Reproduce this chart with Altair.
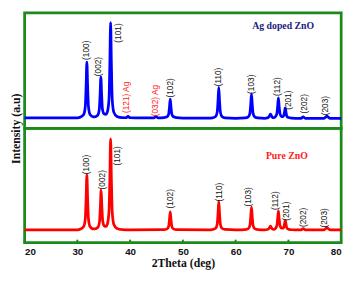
import altair as alt
import pandas as pd

# ---- data ----
# Ag doped ZnO (top panel, blue)
ag_x = [20.0, 30.0, 30.6, 31.2, 31.5, 31.65, 31.8, 31.95, 32.1, 32.4, 33.0,
        33.25, 33.85, 34.15, 34.3, 34.45, 34.6, 34.75, 35.05, 35.4, 35.7, 36.0, 36.15, 36.3, 36.45, 36.6, 36.9, 37.5, 38.5,
        39.2, 39.6, 40.0, 41.0, 44.5, 44.9, 45.3,
        46.4, 47.0, 47.3, 47.45, 47.6, 47.75, 47.9, 48.2, 48.8, 50.0, 55.0,
        55.6, 56.2, 56.5, 56.65, 56.8, 56.95, 57.1, 57.4, 58.0, 60.0,
        61.8, 62.4, 62.7, 62.85, 63.0, 63.15, 63.3, 63.6, 64.2, 65.5,
        66.0, 66.3, 66.6, 66.9, 67.2,
        67.5, 67.8, 67.95, 68.1, 68.25, 68.4, 68.7, 68.95, 69.1, 69.25, 69.4, 69.55, 69.7, 70.0, 70.6,
        72.0, 72.4, 72.8, 73.2, 75.0, 76.7, 77.0, 77.3, 77.6, 77.9, 80.0]
ag_y = [11.5, 11.5, 12.4, 15.2, 23.8, 45.3, 73.0, 45.3, 23.8, 15.2, 12.6,
        12.5, 14.3, 20.5, 36.3, 56.5, 36.8, 21.3, 16.0, 15.4, 18.4, 32.6, 69.5, 116.5, 69.5, 32.5, 17.8, 13.1, 11.7,
        11.6, 13.0, 11.6, 11.5, 11.5, 12.8, 11.5,
        11.8, 12.7, 15.6, 22.8, 32.0, 22.8, 15.6, 12.7, 11.8, 11.3, 11.2,
        11.5, 13.0, 17.8, 29.7, 45.0, 29.7, 17.8, 13.0, 11.5, 11.0,
        11.4, 12.6, 16.4, 25.9, 38.0, 25.9, 16.4, 12.6, 11.4, 11.0,
        11.4, 12.5, 15.5, 12.5, 11.6,
        12.6, 15.8, 23.6, 33.5, 23.8, 16.3, 12.9, 12.9, 13.8, 17.7, 22.5, 17.4, 13.3, 11.8, 11.2,
        10.8, 11.0, 12.5, 11.0, 10.8, 11.0, 12.0, 13.5, 12.0, 11.0, 10.8]

# Pure ZnO (bottom panel, red)
pure_x = [20.0, 30.0, 30.6, 31.2, 31.5, 31.65, 31.8, 31.95, 32.1, 32.4, 33.0,
          33.3, 33.9, 34.2, 34.35, 34.5, 34.65, 34.8, 35.1, 35.4, 35.7, 36.0, 36.15, 36.3, 36.45, 36.6, 36.9, 37.5, 38.5,
          40.0, 46.4, 47.0, 47.3, 47.45, 47.6, 47.75, 47.9, 48.2, 48.8, 55.0,
          55.6, 56.2, 56.5, 56.65, 56.8, 56.95, 57.1, 57.4, 58.0, 60.0,
          61.8, 62.4, 62.7, 62.85, 63.0, 63.15, 63.3, 63.6, 64.2, 65.5,
          66.0, 66.3, 66.6, 66.9, 67.2,
          67.5, 67.8, 67.95, 68.1, 68.25, 68.4, 68.7, 68.95, 69.1, 69.25, 69.4, 69.55, 69.7, 70.0, 70.6,
          72.0, 72.4, 72.8, 73.2, 75.0, 76.7, 77.0, 77.3, 77.6, 77.9, 80.0]
pure_y = [13.3, 13.3, 14.2, 16.8, 24.8, 45.0, 71.0, 45.0, 24.8, 16.8, 14.4,
          14.3, 16.1, 22.0, 36.5, 55.0, 37.0, 23.0, 17.6, 16.9, 19.6, 33.5, 66.0, 109.0, 66.0, 32.8, 19.3, 14.8, 13.6,
          13.3, 13.6, 14.4, 17.1, 23.8, 32.3, 23.8, 17.1, 14.4, 13.6, 13.3,
          13.8, 15.1, 19.3, 29.8, 43.3, 29.8, 19.3, 15.1, 13.8, 13.3,
          13.7, 14.7, 18.1, 26.5, 37.3, 26.5, 18.1, 14.7, 13.7, 13.3,
          13.7, 14.6, 17.3, 14.6, 13.9,
          14.6, 17.6, 24.5, 33.3, 24.6, 18.0, 15.1, 15.1, 15.8, 19.1, 23.3, 18.9, 15.5, 14.1, 13.5,
          13.3, 13.4, 14.8, 13.4, 13.3, 13.4, 14.4, 15.7, 14.4, 13.4, 13.3]

# peak labels
ag_lab_text = ["(100)", "(002)", "(101)", "(121) Ag", "(032) Ag", "(102)", "(110)", "(103)", "(112)", "(201)", "(202)", "(203)"]
ag_lab_x = [31.7, 34.0, 37.7, 39.3, 44.7, 47.6, 56.6, 62.9, 67.8, 69.9, 72.9, 77.0]
ag_lab_y = [86.0, 68.0, 105.0, 34.0, 30.5, 44.5, 56.5, 48.5, 46.0, 31.0, 27.0, 25.0]
ag_lab_col = ["#111111", "#111111", "#111111", "#ff2020", "#ff2020", "#111111",
              "#111111", "#111111", "#111111", "#111111", "#111111", "#111111"]

pure_lab_text = ["(100)", "(002)", "(101)", "(102)", "(110)", "(103)", "(112)", "(201)", "(202)", "(203)"]
pure_lab_x = [31.7, 34.6, 37.5, 47.6, 56.8, 62.3, 67.4, 69.5, 72.8, 76.8]
pure_lab_y = [82.0, 66.0, 91.0, 46.0, 53.0, 48.0, 44.0, 33.0, 26.5, 26.0]

x_ticks = [20, 30, 40, 50, 60, 70, 80]

GREEN = "#1b8a1b"
SANS = "Arial, Liberation Sans, DejaVu Sans, sans-serif"
SERIF = "Times New Roman, Liberation Serif, serif"
W, H1, H2 = 324, 118, 117

xscale = alt.Scale(domain=[20, 80], nice=False, zero=False)

ag_df = pd.DataFrame({"x": ag_x, "y": ag_y})
pure_df = pd.DataFrame({"x": pure_x, "y": pure_y})
ag_lab = pd.DataFrame({"x": ag_lab_x, "y": ag_lab_y, "t": ag_lab_text, "c": ag_lab_col})
pure_lab = pd.DataFrame({"x": pure_lab_x, "y": pure_lab_y, "t": pure_lab_text})
ticks_df = pd.DataFrame({"t": x_ticks})

top_y = alt.Scale(domain=[0, 127], nice=False, zero=False)
bot_y = alt.Scale(domain=[0, 120], nice=False, zero=False)

top_line = alt.Chart(ag_df).mark_line(color="#0000ff", strokeWidth=2.8, interpolate="monotone").encode(
    x=alt.X("x:Q", scale=xscale, axis=None),
    y=alt.Y("y:Q", scale=top_y, axis=alt.Axis(
        title="Intensity (a.u)", labels=False, ticks=False, domain=False, grid=False,
        titleFont=SERIF, titleFontSize=12, titleFontWeight="bold", titleColor="#111111",
        titleX=-2, titleY=H1, titleAlign="center", titleAngle=270, titleBaseline="bottom")),
)
top_text = alt.Chart(ag_lab).mark_text(angle=270, font=SANS, fontSize=8.5).encode(
    x=alt.X("x:Q", scale=xscale), y=alt.Y("y:Q", scale=top_y), text="t:N",
    color=alt.Color("c:N", scale=None),
)
top_title = alt.Chart(pd.DataFrame({"x": [69.0], "y": [113.0], "t": ["Ag doped ZnO"]})).mark_text(
    font=SERIF, fontSize=10, fontWeight="bold", color="#1a1a80").encode(
    x=alt.X("x:Q", scale=xscale), y=alt.Y("y:Q", scale=top_y), text="t:N")
top = alt.layer(top_line, top_text, top_title).properties(width=W, height=H1)

bot_line = alt.Chart(pure_df).mark_line(color="#ff0000", strokeWidth=2.8, interpolate="monotone").encode(
    x=alt.X("x:Q", scale=xscale, axis=alt.Axis(
        values=x_ticks, format="d", title="2Theta (deg)", domain=False, ticks=False, grid=False,
        labelFont=SANS, labelFontSize=10, labelFontWeight="bold", labelColor="#111111",
        labelPadding=4, titleFont=SERIF, titleFontSize=12, titleFontWeight="bold",
        titleColor="#111111", titlePadding=1)),
    y=alt.Y("y:Q", scale=bot_y, axis=None),
)
bot_text = alt.Chart(pure_lab).mark_text(angle=270, font=SANS, fontSize=8.5, color="#111111").encode(
    x=alt.X("x:Q", scale=xscale), y=alt.Y("y:Q", scale=bot_y), text="t:N")
bot_title = alt.Chart(pd.DataFrame({"x": [69.7], "y": [91.0], "t": ["Pure ZnO"]})).mark_text(
    font=SERIF, fontSize=10, fontWeight="bold", color="#ff1a1a").encode(
    x=alt.X("x:Q", scale=xscale), y=alt.Y("y:Q", scale=bot_y), text="t:N")
bot_ticks = alt.Chart(ticks_df).mark_rule(color=GREEN, strokeWidth=2).encode(
    x=alt.X("t:Q", scale=xscale), y=alt.value(H2), y2=alt.value(H2 - 3))
bot = alt.layer(bot_line, bot_ticks, bot_text, bot_title).properties(width=W, height=H2)

chart = alt.vconcat(top, bot, spacing=0, bounds="flush").properties(
    padding={"left": 0, "top": 0, "right": 1, "bottom": 0}
).configure_view(stroke=GREEN, strokeWidth=2.8)

chart.save("out.html", embed_options={"renderer": "svg", "actions": False})
